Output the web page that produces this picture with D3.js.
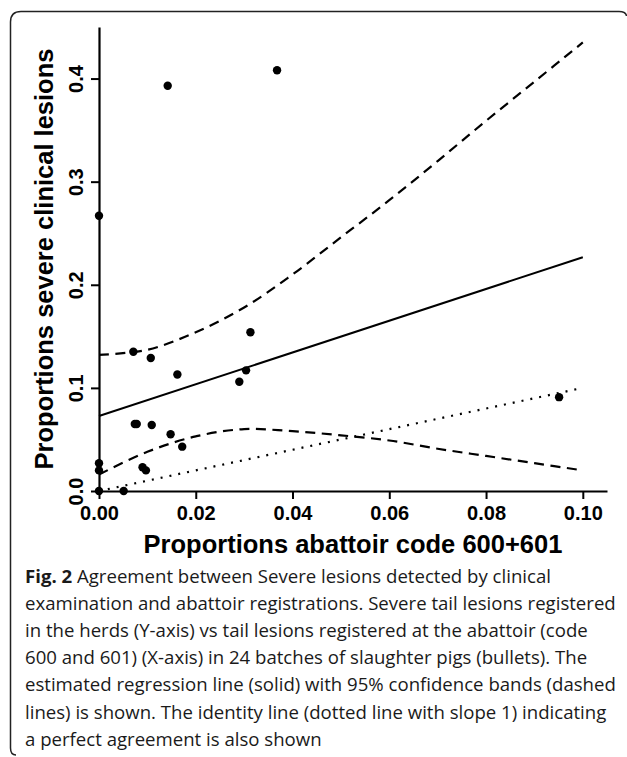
<!DOCTYPE html>
<html>
<head>
<meta charset="utf-8">
<script src="https://cdn.jsdelivr.net/npm/d3@7"></script>
<style>
  html, body { margin: 0; padding: 0; background: #fff; }
  svg { display: block; }
</style>
</head>
<body>
<div id="chart"></div>
<script>
// --- data ---
const abattoirX = [0.0142, 0.0368, 0.0, 0.0071, 0.0107, 0.0162, 0.0290, 0.0304, 0.0313,
                   0.0074, 0.0078, 0.0109, 0.0148, 0.0172, 0.0090, 0.0097, 0.0, 0.0,
                   0.0, 0.0051, 0.0951];
const clinicalY = [0.393, 0.408, 0.267, 0.135, 0.129, 0.113, 0.106, 0.117, 0.154,
                   0.065, 0.065, 0.064, 0.055, 0.043, 0.023, 0.020, 0.027, 0.020,
                   0.0, 0.0, 0.091];

const regX = [0, 0.10];
const regY = [0.0727, 0.2267];

const identX = [0, 0.10];
const identY = [0, 0.10];

const bandX = [0, 0.01, 0.02, 0.03, 0.04, 0.05, 0.06, 0.07, 0.08, 0.09, 0.10];
const bandUpper = [0.132, 0.137, 0.154, 0.178, 0.210, 0.246, 0.282, 0.320, 0.359, 0.397, 0.435];
const bandLower = [0.016, 0.038, 0.053, 0.060, 0.058, 0.054, 0.049, 0.041, 0.034, 0.027, 0.020];

const xTicks = [0, 0.02, 0.04, 0.06, 0.08, 0.10];
const yTicks = [0, 0.1, 0.2, 0.3, 0.4];

const xTitle = "Proportions abattoir code 600+601";
const yTitle = "Proportions severe clinical lesions";

const captionLines = [
  "Agreement between Severe lesions detected by clinical",
  "examination and abattoir registrations. Severe tail lesions registered",
  "in the herds (Y-axis) vs tail lesions registered at the abattoir (code",
  "600 and 601) (X-axis) in 24 batches of slaughter pigs (bullets). The",
  "estimated regression line (solid) with 95% confidence bands (dashed",
  "lines) is shown. The identity line (dotted line with slope 1) indicating",
  "a perfect agreement is also shown"
];

// --- layout ---
const W = 627, H = 757;
const plot = { left: 99, right: 607, top: 27, bottom: 491 };
const axisFont = "'Liberation Sans', Arial, Helvetica, sans-serif";

const svg = d3.select('#chart').append('svg')
    .attr('width', W)
    .attr('height', H);

// frame around figure + caption
svg.append('path')
    .attr('d', 'M16,755 Q10.5,755 10.5,748 L10.5,22 Q10.5,11.5 21,11.5 L619,11.5 Q626,11.5 626.5,16')
    .attr('fill', 'none')
    .attr('stroke', '#222')
    .attr('stroke-width', 1.5);

const x = d3.scaleLinear().domain([0, 0.105]).range([plot.left, plot.right]);
const y = d3.scaleLinear().domain([0, 0.45]).range([plot.bottom, plot.top]);

// --- axes ---
const xAxisG = svg.append('g')
    .attr('transform', `translate(0,${plot.bottom})`)
    .call(d3.axisBottom(x).tickValues(xTicks).tickSize(8)
        .tickFormat(d3.format('.2f')).tickSizeOuter(0));

const yAxisG = svg.append('g')
    .attr('transform', `translate(${plot.left},0)`)
    .call(d3.axisLeft(y).tickValues(yTicks).tickSize(8)
        .tickFormat(d3.format('.1f')).tickSizeOuter(0));

[xAxisG, yAxisG].forEach(g => {
  g.attr('font-family', null).attr('font-size', null);
  g.select('.domain').attr('stroke', '#000').attr('stroke-width', 2.2);
  g.selectAll('.tick line').attr('stroke', '#000').attr('stroke-width', 2);
  g.selectAll('.tick text')
      .attr('fill', '#000')
      .style('font-family', axisFont)
      .style('font-size', '20px')
      .style('font-weight', 'bold');
});
xAxisG.selectAll('.tick text').attr('dy', null).attr('y', 29);

// y tick labels rotated like R's default
yAxisG.selectAll('.tick text')
    .attr('x', null).attr('dy', null)
    .attr('text-anchor', 'middle')
    .attr('transform', 'translate(-16,0) rotate(-90)');

// axis titles
svg.append('text')
    .attr('x', (plot.left + plot.right) / 2)
    .attr('y', 553)
    .attr('text-anchor', 'middle')
    .style('font-family', axisFont)
    .style('font-size', '25.5px')
    .style('font-weight', 'bold')
    .text(xTitle);

svg.append('text')
    .attr('transform', `translate(53,${(plot.top + plot.bottom) / 2}) rotate(-90)`)
    .attr('text-anchor', 'middle')
    .style('font-family', axisFont)
    .style('font-size', '25.5px')
    .style('font-weight', 'bold')
    .text(yTitle);

// --- lines ---
const lineOf = (xs, ys, curve) => d3.line()
    .x((d, i) => x(xs[i]))
    .y((d, i) => y(ys[i]))
    .curve(curve)(xs);

svg.append('path')
    .attr('d', lineOf(regX, regY, d3.curveLinear))
    .attr('fill', 'none').attr('stroke', '#000').attr('stroke-width', 2);

[bandUpper, bandLower].forEach(band => {
  svg.append('path')
      .attr('d', lineOf(bandX, band, d3.curveCatmullRom))
      .attr('fill', 'none').attr('stroke', '#000').attr('stroke-width', 2.2)
      .attr('stroke-dasharray', '10,6.5');
});

svg.append('path')
    .attr('d', lineOf(identX, identY, d3.curveLinear))
    .attr('fill', 'none').attr('stroke', '#000').attr('stroke-width', 2.2)
    .attr('stroke-dasharray', '2,7');

// --- points ---
svg.append('g').selectAll('circle')
    .data(abattoirX)
    .join('circle')
    .attr('cx', d => x(d))
    .attr('cy', (d, i) => y(clinicalY[i]))
    .attr('r', 4.2)
    .attr('fill', '#000');

// --- caption ---
const capFont = "'Open Sans', 'Noto Sans', sans-serif";
const cap = svg.append('g')
    .style('font-family', capFont)
    .style('font-size', '18.6px')
    .attr('fill', '#1a1a1a');

captionLines.forEach((line, i) => {
  const t = cap.append('text')
      .attr('x', 25)
      .attr('y', 583 + i * 27.1);
  if (i === 0) {
    t.append('tspan').style('font-weight', 'bold').text('Fig. 2');
    t.append('tspan').text(' ' + line);
  } else {
    t.text(line);
  }
});
</script>
</body>
</html>
